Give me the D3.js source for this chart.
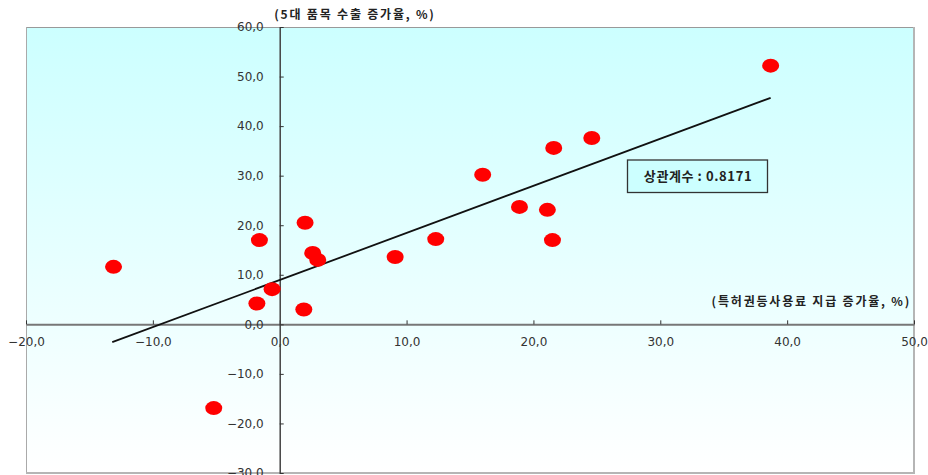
<!DOCTYPE html>
<html><head><meta charset="utf-8">
<script src="https://cdn.jsdelivr.net/npm/d3@7"></script>
<style>
html,body{margin:0;padding:0;background:#fff;}
svg{display:block;}
</style></head>
<body>
<svg id="chart" width="928" height="475"></svg>
<script>
// Data
const xValues = [38.7, 24.6, 21.6, 16.0, 18.9, 21.1, 21.5, -13.1, -1.6, 2.0, 2.6, 3.0, 9.1, 12.3, -0.6, -1.8, 1.9, -5.2];
const yValues = [52.2, 37.6, 35.6, 30.2, 23.7, 23.1, 17.0, 11.6, 17.0, 20.5, 14.4, 13.0, 13.6, 17.2, 7.1, 4.2, 3.0, -16.9];
const trendX = [-13.2, 38.7];
const trendY = [-3.6, 45.7];
const xTicks = [-20, -10, 0, 10, 20, 30, 40, 50];
const yTicks = [-30, -20, -10, 0, 10, 20, 30, 40, 50, 60];
const yTitle = "(5대 품목 수출 증가율, %)";
const xTitle = "(특허권등사용료 지급 증가율, %)";
const corrLabel = "상관계수 : 0.8171";

const svg = d3.select("#chart");
const L = 26, R = 914, T = 27, B = 473;

const x = d3.scaleLinear().domain([-20, 50]).range([L, R]);
const y = d3.scaleLinear().domain([-30, 60]).range([B, T]);

const fmt = v => d3.format(".1f")(v).replace("-", "\u2212").replace(".", ",");

// background gradient
const defs = svg.append("defs");
const grad = defs.append("linearGradient").attr("id", "bg").attr("x1", 0).attr("y1", 0).attr("x2", 0).attr("y2", 1);
grad.append("stop").attr("offset", "0%").attr("stop-color", "#ccffff");
grad.append("stop").attr("offset", "100%").attr("stop-color", "#ffffff");

svg.append("rect").attr("x", L).attr("y", T).attr("width", R - L).attr("height", B - T)
  .attr("fill", "url(#bg)");

// plot border: top/left thin gray, right/bottom shadowed
svg.append("line").attr("x1", L).attr("x2", R).attr("y1", T + 0.5).attr("y2", T + 0.5).attr("stroke", "#999").attr("stroke-width", 1);
svg.append("line").attr("x1", L + 0.5).attr("x2", L + 0.5).attr("y1", T).attr("y2", B).attr("stroke", "#aaa").attr("stroke-width", 1);
svg.append("line").attr("x1", R).attr("x2", R).attr("y1", T).attr("y2", B + 1).attr("stroke", "#b5b5b5").attr("stroke-width", 2);
svg.append("line").attr("x1", L).attr("x2", R + 1).attr("y1", B).attr("y2", B).attr("stroke", "#b5b5b5").attr("stroke-width", 2);

// x axis at y=0
const xAxis = d3.axisBottom(x).tickValues(xTicks).tickFormat(fmt)
  .tickSizeInner(-4).tickSizeOuter(0).tickPadding(13);
const gx = svg.append("g").attr("transform", `translate(0,${y(0)})`).call(xAxis);
gx.select(".domain").attr("stroke", "#777").attr("stroke-width", 2);
gx.selectAll(".tick line").attr("stroke", "#333");
gx.selectAll(".tick text").attr("fill", "#333").style("font-family", "DejaVu Sans, sans-serif").style("font-size", "12px");

// y axis at x=0
const yAxis = d3.axisLeft(y).tickValues(yTicks).tickFormat(fmt)
  .tickSizeInner(-4).tickSizeOuter(0).tickPadding(16);
const gy = svg.append("g").attr("transform", `translate(${x(0)},0)`).call(yAxis);
gy.select(".domain").attr("stroke", "#444").attr("stroke-width", 1.5);
gy.selectAll(".tick line").attr("stroke", "#333");
gy.selectAll(".tick text").attr("fill", "#333").style("font-family", "DejaVu Sans, sans-serif").style("font-size", "12px");

// trend line
svg.append("line")
  .attr("x1", x(trendX[0])).attr("y1", y(trendY[0]))
  .attr("x2", x(trendX[1])).attr("y2", y(trendY[1]))
  .attr("stroke", "#111").attr("stroke-width", 1.8);

// points
svg.append("g").selectAll("ellipse").data(xValues.map((v, i) => [v, yValues[i]]))
  .join("ellipse")
  .attr("cx", d => x(d[0])).attr("cy", d => y(d[1]))
  .attr("rx", 8.5).attr("ry", 7)
  .attr("fill", "#ff0000");

// correlation box
svg.append("rect").attr("x", 627.5).attr("y", 160).attr("width", 140).attr("height", 32.5)
  .attr("fill", "#ccffff").attr("stroke", "#333").attr("stroke-width", 1.3);
svg.append("text").attr("x", 698).attr("y", 181).attr("text-anchor", "middle")
  .style("font-family", "'Noto Sans CJK KR', sans-serif").style("font-weight", "bold")
  .style("font-size", "13px").style("letter-spacing", "0.6px").attr("fill", "#222")
  .text(corrLabel);

// titles
svg.append("text").attr("x", 355).attr("y", 18.5).attr("text-anchor", "middle")
  .style("font-family", "'Noto Sans CJK KR', sans-serif").style("font-weight", "bold")
  .style("font-size", "12px").style("letter-spacing", "1.8px").attr("fill", "#222")
  .text(yTitle);
svg.append("text").attr("x", 911).attr("y", 306).attr("text-anchor", "end")
  .style("font-family", "'Noto Sans CJK KR', sans-serif").style("font-weight", "bold")
  .style("font-size", "12px").style("letter-spacing", "1.8px").attr("fill", "#222")
  .text(xTitle);
</script>
</body></html>
